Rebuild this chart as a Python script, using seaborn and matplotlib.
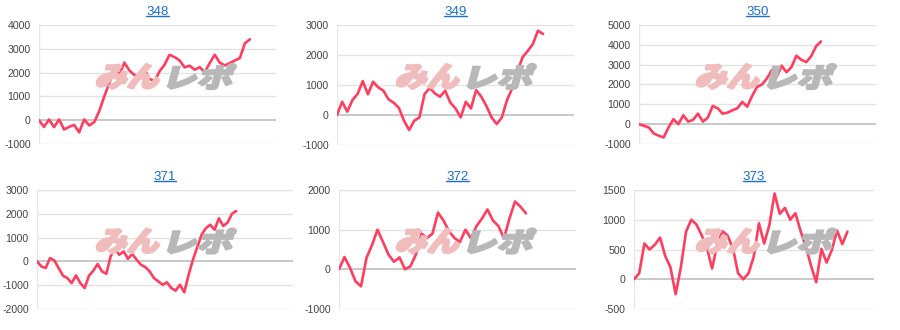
import matplotlib
matplotlib.use("Agg")
import matplotlib.pyplot as plt
import seaborn as sns
import numpy as np
import pandas as pd
from matplotlib.textpath import TextPath
from matplotlib.font_manager import FontProperties
from matplotlib.patches import PathPatch
from matplotlib.transforms import Affine2D, IdentityTransform
from matplotlib.lines import Line2D

# ---------------- data ----------------
titles = ["348", "349", "350", "371", "372", "373"]

s348 = [0, -280, 30, -290, 30, -390, -280, -200, -510, 30, -220, -80, 380, 1000,
        1560, 2120, 1900, 2420, 2090, 1900, 1810, 2120, 1740, 1630, 2050, 2330,
        2750, 2650, 2510, 2220, 2290, 2120, 2230, 2020, 2400, 2750, 2420, 2300,
        2400, 2510, 2610, 3230, 3400]
s349 = [0, 440, 110, 500, 700, 1130, 690, 1110, 920, 810, 520, 410, 240, -190,
        -500, -190, -80, 700, 900, 720, 610, 810, 410, 220, -80, 440, 220, 830,
        610, 300, -80, -300, -80, 500, 890, 1440, 1920, 2130, 2360, 2810, 2700]
s350 = [0, -80, -170, -470, -580, -670, -170, 250, 0, 450, 130, 220, 530, 130,
        330, 920, 800, 530, 580, 700, 800, 1120, 880, 1420, 1880, 2000, 2300,
        2720, 2380, 2950, 2620, 2880, 3450, 3250, 3130, 3420, 3920, 4170]
s371 = [0, -210, -280, 140, 40, -280, -600, -700, -910, -590, -910, -1120, -600,
        -390, -110, -420, -520, 210, 520, 280, 420, 110, 310, 70, -140, -240,
        -420, -700, -840, -980, -880, -1120, -1230, -980, -1300, -560, 70, 600,
        1120, 1400, 1540, 1330, 1810, 1490, 1630, 2000, 2120]
s372 = [0, 310, 40, -300, -430, 290, 610, 1000, 690, 370, 190, 300, 0, 80, 380,
        900, 790, 900, 1430, 1230, 960, 790, 690, 1000, 780, 1090, 1280, 1510,
        1230, 1090, 780, 1280, 1710, 1580, 1410]
s373 = [0, 100, 600, 500, 580, 700, 390, 200, -250, 200, 800, 1000, 920, 740,
        530, 180, 590, 810, 730, 520, 100, 0, 100, 380, 940, 600, 910, 1440,
        1100, 1200, 1000, 1110, 810, 550, 230, -50, 510, 280, 490, 820, 590, 800]
series = [s348, s349, s350, s371, s372, s373]

y_ranges = [(-1000, 4000), (-1000, 3000), (-1000, 5000),
            (-2000, 3000), (-1000, 2000), (-500, 1500)]
y_steps = [1000, 1000, 1000, 1000, 1000, 500]

# ---------------- layout (pixels) ----------------
W, H = 900, 330
boxes = [(39, 276, 25, 144), (337, 574, 25, 145), (639, 876, 25, 144),
         (37, 293, 190, 309), (339, 576, 190, 309), (634, 874, 190, 309)]
x_max = [47.2, 46.0, 48.2, 59.1, 43.1, 46.1]

sns.set_style("white")
plt.rcParams['font.family'] = ['Liberation Sans', 'Noto Sans CJK JP', 'DejaVu Sans']

LINE = "#ff3d5f"
TITLE = "#1a6fd0"
GRID = "#e3e3e3"

fig = plt.figure(figsize=(W / 100, H / 100), dpi=100)
fig.patch.set_facecolor("white")

axes = []
for i, (t, s) in enumerate(zip(titles, series)):
    l, r, top, bot = boxes[i]
    ax = fig.add_axes([l / W, 1 - bot / H, (r - l) / W, (bot - top) / H])
    axes.append(ax)
    lo, hi = y_ranges[i]
    ticks = np.arange(lo, hi + 1, y_steps[i])
    for tv in ticks:
        if tv == 0:
            continue
        ax.axhline(tv, color=GRID, lw=1.0, zorder=0)
    ax.axhline(0, color="#c4c4c4", lw=1.3, zorder=0.5)
    ax.axvline(0, color="#e6e6e6", lw=1.0, zorder=0)
    df = pd.DataFrame({"x": np.arange(len(s)), "y": s})
    sns.lineplot(data=df, x="x", y="y", ax=ax, color=LINE, lw=1.9, zorder=3)
    ax.set_xlim(0, x_max[i])
    ax.set_ylim(lo, hi)
    ax.set_yticks(ticks)
    ax.set_yticklabels([str(int(v)) for v in ticks])
    ax.set_xticks([])
    ax.set_xlabel("")
    ax.set_ylabel("")
    ax.tick_params(axis="y", length=0, pad=6, labelsize=7.6, labelcolor="#444444")
    for sp in ax.spines.values():
        sp.set_visible(False)
    ax.patch.set_alpha(0)
    ax.set_title(t, color=TITLE, fontsize=9.6, pad=7)

# watermark logos (drawn in pixel coordinates)
fp = FontProperties(family="Noto Sans CJK JP", weight="black")

def logo(cx, cy_top):
    cy = H - cy_top
    parts = [("みん", "#f1bcbc", cx - 71, cx - 1), ("レポ", "#b8b8b8", cx + 1, cx + 72)]
    for txt, col, x0, x1 in parts:
        tp = TextPath((0, 0), txt, size=30, prop=fp)
        ext = tp.get_extents()
        sx = (x1 - x0 - 8) / ext.width
        sy = 25 / ext.height
        tr = (Affine2D().translate(-ext.x0, -ext.y0).scale(sx, sy)
              .skew_deg(15, 0).translate(x0, cy - 12.5))
        patch = PathPatch(tr.transform_path(tp), facecolor=col, edgecolor=col,
                          lw=1.6, joinstyle="round",
                          transform=IdentityTransform(), zorder=1)
        fig.add_artist(patch)

for row in range(2):
    for col in range(3):
        logo(166 + 300 * col, 76.5 + 164.5 * row)

# underline titles
fig.canvas.draw()
rend = fig.canvas.get_renderer()
for ax in axes:
    bb = ax.title.get_window_extent(rend)
    yb = bb.y0 + 2.6
    fig.add_artist(Line2D([bb.x0, bb.x1], [yb, yb], color=TITLE, lw=1.0,
                          transform=IdentityTransform()))

fig.savefig("out.png", dpi=100)
